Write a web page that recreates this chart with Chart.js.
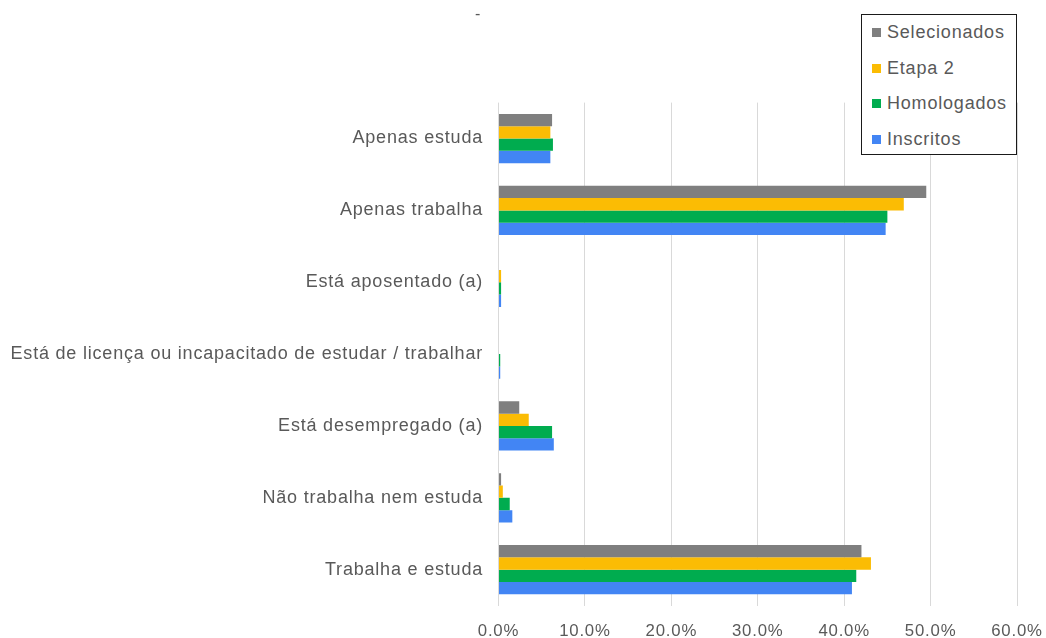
<!DOCTYPE html>
<html>
<head>
<meta charset="utf-8">
<script src="https://cdn.jsdelivr.net/npm/chart.js@4"></script>
<style>
  html, body { margin: 0; padding: 0; background: #fff; }
  #wrap { position: relative; width: 1046px; height: 638px; }
  #stray { position: absolute; left: 475px; top: 5px; font: 16px "Liberation Sans", Arial, sans-serif; color: #595959; }
  #legend {
    position: absolute; left: 861px; top: 14px; width: 154px; height: 139px;
    border: 1.5px solid #1a1a1a; background: #fff;
    font: 18px "Liberation Sans", Arial, sans-serif; letter-spacing: 0.8px; color: #595959;
  }
  #legend .item { position: absolute; left: 10px; white-space: nowrap; }
  #legend .sw { display: inline-block; width: 9px; height: 9px; margin-right: 6px; vertical-align: 1px; }
</style>
</head>
<body>
<div id="wrap">
  <canvas id="chart" width="1046" height="638"></canvas>
  <div id="stray">-</div>
  <div id="legend"></div>
</div>
<script>
// categories, top to bottom
const categories = [
    'Apenas estuda',
    'Apenas trabalha',
    'Está aposentado (a)',
    'Está de licença ou incapacitado de estudar / trabalhar',
    'Está desempregado (a)',
    'Não trabalha nem estuda',
    'Trabalha e estuda'
];

// series values (%)
const selecionados = [6.2, 49.5, 0.0, 0.0, 2.4, 0.3, 42.0];
const etapa2 = [6.0, 46.9, 0.3, 0.0, 3.5, 0.5, 43.1];
const homologados = [6.3, 45.0, 0.3, 0.2, 6.2, 1.3, 41.4];
const inscritos = [6.0, 44.8, 0.3, 0.2, 6.4, 1.6, 40.9];

const seriesNames = ['Selecionados', 'Etapa 2', 'Homologados', 'Inscritos'];
const seriesColors = ['#7f7f7f', '#fbbc04', '#00ac4f', '#4285f4'];
const xTicks = [0, 10, 20, 30, 40, 50, 60];

const fontFamily = '"Liberation Sans", Arial, sans-serif';
const textColor = '#595959';

const datasets = [selecionados, etapa2, homologados, inscritos].map((vals, i) => ({
    label: seriesNames[i],
    data: vals,
    backgroundColor: seriesColors[i],
    borderWidth: 0,
    barPercentage: 1.0,
    categoryPercentage: 0.686
}));

// the labels in the picture are a bit spread out
const spacingPlugin = {
    id: 'spacing',
    beforeUpdate: (chart) => { chart.ctx.letterSpacing = '0.8px'; },
    beforeDraw: (chart) => { chart.ctx.letterSpacing = '0.8px'; }
};

new Chart(document.getElementById('chart').getContext('2d'), {
    type: 'bar',
    data: { labels: categories, datasets: datasets },
    plugins: [spacingPlugin],
    options: {
        indexAxis: 'y',
        responsive: false,
        animation: false,
        layout: { padding: { top: 102.6, right: 29, left: 0, bottom: 0 } },
        plugins: {
            legend: { display: false },
            tooltip: { enabled: false }
        },
        scales: {
            x: {
                min: xTicks[0],
                max: xTicks[xTicks.length - 1],
                afterBuildTicks: (axis) => { axis.ticks = xTicks.map(v => ({ value: v })); },
                ticks: {
                    callback: (v) => Number(v).toFixed(1) + '%',
                    color: textColor,
                    font: { family: fontFamily, size: 16.8 },
                    padding: 16,
                    maxRotation: 0
                },
                grid: { color: '#d9d9d9', lineWidth: 1, drawTicks: false },
                border: { display: false },
                afterFit: (axis) => {
                    axis.height = 32.4;
                    axis.paddingLeft = 0;
                    axis.paddingRight = 0;
                }
            },
            y: {
                ticks: {
                    color: textColor,
                    font: { family: fontFamily, size: 18 },
                    padding: 15.5,
                    autoSkip: false
                },
                grid: { display: false, drawTicks: false },
                border: { display: false },
                afterFit: (axis) => {
                    axis.width = 498.5;
                    axis.paddingTop = 0;
                    axis.paddingBottom = 0;
                }
            }
        }
    }
});

// legend box, built from the dataset labels and colours
const legendBox = document.getElementById('legend');
seriesNames.forEach((name, i) => {
    const item = document.createElement('div');
    item.className = 'item';
    item.style.top = (7 + i * 35.5) + 'px';
    item.innerHTML = '<span class="sw" style="background:' + seriesColors[i] + '"></span>' + name;
    legendBox.appendChild(item);
});
</script>
</body>
</html>
